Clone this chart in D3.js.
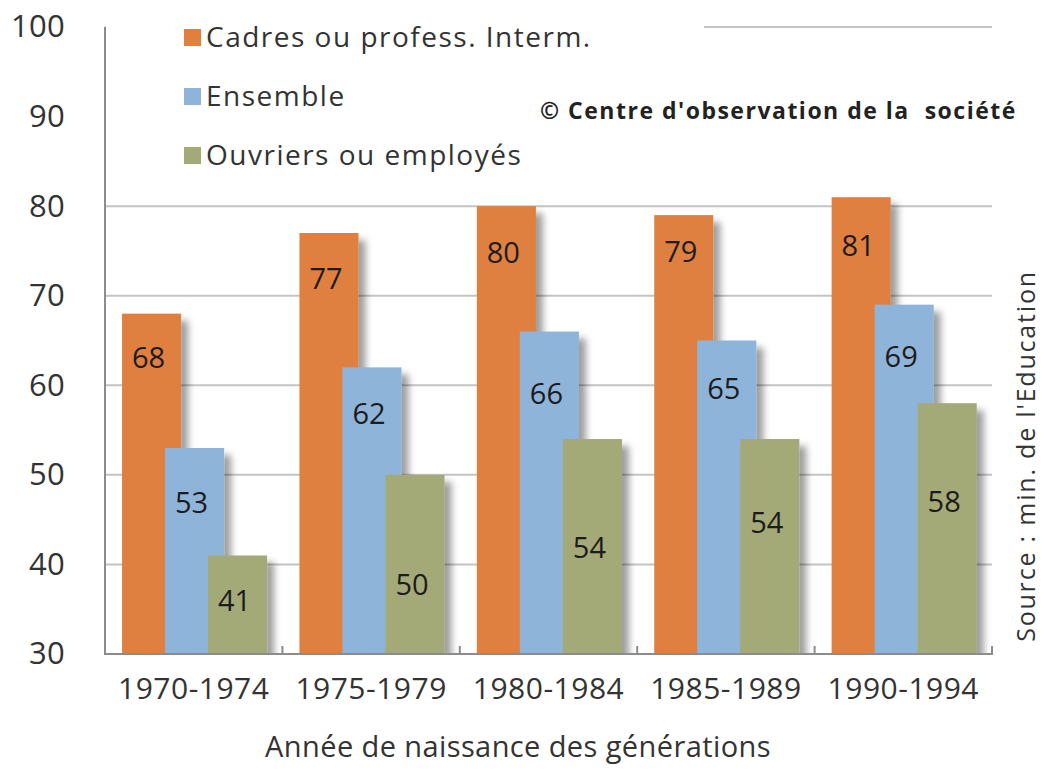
<!DOCTYPE html>
<html>
<head>
<meta charset="utf-8">
<script src="https://cdn.jsdelivr.net/npm/d3@7"></script>
<style>
  html, body { margin: 0; padding: 0; background: #fff; }
  svg { display: block; font-family: "Open Sans", "DejaVu Sans", sans-serif; }
</style>
</head>
<body>
<svg id="chart" width="1044" height="775"></svg>
<script>
// ---- data ----
const categories = ["1970-1974", "1975-1979", "1980-1984", "1985-1989", "1990-1994"];
const seriesNames = ["Cadres ou profess. Interm.", "Ensemble", "Ouvriers ou employés"];
const cadres   = [68, 77, 80, 79, 81];
const ensemble = [53, 62, 66, 65, 69];
const ouvriers = [41, 50, 54, 54, 58];
const yTicks = [30, 40, 50, 60, 70, 80, 90, 100];
const xTitle = "Année de naissance des générations";
const credit = "© Centre d'observation de la  société";
const source = "Source : min. de l'Education";

// ---- style / layout ----
const colors = ["#E0803F", "#8FB4D9", "#A3AA78"];
// manual label nudges (px below the bar top), as in the original
const labelNudge = [
  [44, 46, 47, 37, 49],
  [55, 46, 62, 48, 52],
  [45, 110, 109, 84, 99]
];

const seriesValues = [cadres, ensemble, ouvriers];
const svg = d3.select("#chart");

const x = d3.scaleBand().domain(categories).range([105, 992]).padding(0);
const y = d3.scaleLinear().domain([30, 100]).range([654, 27]);
const bw = x.bandwidth();
const sub = d3.scaleLinear().domain([0, 2]).range([bw * 0.096, bw * 0.096 + bw * 0.485]);
const barW = bw * 0.333;

// shadow filter + clip
const defs = svg.append("defs");
const f = defs.append("filter").attr("id", "sh").attr("x", "-20%").attr("y", "-10%").attr("width", "160%").attr("height", "130%");
f.append("feDropShadow").attr("dx", 7).attr("dy", 7).attr("stdDeviation", 3.5)
  .attr("flood-color", "#000").attr("flood-opacity", 0.38);
defs.append("clipPath").attr("id", "plotclip").append("rect")
  .attr("x", 0).attr("y", 0).attr("width", 1044).attr("height", y(30) - 1);

// gridlines
svg.append("g").selectAll("line").data(yTicks.filter(d => d > 30)).join("line")
  .attr("x1", 105).attr("x2", 992)
  .attr("y1", d => y(d)).attr("y2", d => y(d))
  .attr("stroke", "#c4c4c4").attr("stroke-width", 2);

// legend background (hides gridlines like the original)
svg.append("rect").attr("x", 106).attr("y", 0).attr("width", 598).attr("height", 178).attr("fill", "#fff");

// bars
const barsG = svg.append("g").attr("clip-path", "url(#plotclip)");
seriesValues.forEach((vals, si) => {
  barsG.append("g").selectAll("rect").data(vals).join("rect")
    .attr("x", (d, i) => x(categories[i]) + sub(si))
    .attr("y", d => y(d))
    .attr("width", barW)
    .attr("height", d => y(30) - y(d))
    .attr("fill", colors[si])
    .attr("filter", "url(#sh)");
});

// data labels
seriesValues.forEach((vals, si) => {
  svg.append("g").selectAll("text").data(vals).join("text")
    .attr("x", (d, i) => x(categories[i]) + sub(si) + barW / 2 - 3)
    .attr("y", (d, i) => y(d) + labelNudge[si][i])
    .attr("dy", "0.35em")
    .attr("text-anchor", "middle")
    .attr("font-size", 29)
    .attr("fill", "#1c1c1c")
    .text(d => d);
});

// y axis
const yAxis = svg.append("g").attr("transform", "translate(105,0)")
  .call(d3.axisLeft(y).tickValues(yTicks).tickSize(0).tickPadding(40).tickFormat(d3.format("d")));
yAxis.select(".domain").remove();
yAxis.selectAll("text").attr("font-size", 31).attr("letter-spacing", 0.3).attr("fill", "#333").attr("font-family", "Open Sans");
svg.append("line").attr("x1", 105).attr("x2", 105).attr("y1", y(100)).attr("y2", y(30))
  .attr("stroke", "#8c8c8c").attr("stroke-width", 2);

// x axis
const xAxis = svg.append("g").attr("transform", `translate(0,${y(30)})`)
  .call(d3.axisBottom(x).tickSize(0).tickPadding(24));
xAxis.select(".domain").remove();
xAxis.selectAll("text").attr("font-size", 30).attr("letter-spacing", 0.5).attr("fill", "#333").attr("font-family", "Open Sans");
svg.append("line").attr("x1", 104).attr("x2", 993).attr("y1", y(30)).attr("y2", y(30))
  .attr("stroke", "#8c8c8c").attr("stroke-width", 2);
svg.append("g").selectAll("line").data(categories).join("line")
  .attr("x1", d => x(d) + bw).attr("x2", d => x(d) + bw)
  .attr("y1", y(30)).attr("y2", y(30) - 8)
  .attr("stroke", "#8c8c8c").attr("stroke-width", 2);

// x title
svg.append("text").attr("x", 518).attr("y", 757).attr("text-anchor", "middle")
  .attr("font-size", 29).attr("letter-spacing", 0.4).attr("fill", "#333").text(xTitle);

// legend
const lg = svg.append("g");
seriesNames.forEach((n, i) => {
  const cy = 37 + i * 59;
  lg.append("rect").attr("x", 184).attr("y", cy - 8).attr("width", 17).attr("height", 17).attr("fill", colors[i]);
  lg.append("text").attr("x", 206).attr("y", cy).attr("dy", "0.35em")
    .attr("font-size", 28).attr("letter-spacing", 1.5).attr("fill", "#333").text(n);
});

// credit
svg.append("rect").attr("x", 532).attr("y", 95).attr("width", 500).attr("height", 32).attr("fill", "#fff");
svg.append("text").attr("x", 540).attr("y", 111).attr("dy", "0.35em")
  .attr("font-size", 23).attr("letter-spacing", 1.5).attr("font-weight", "bold").attr("fill", "#222")
  .attr("xml:space", "preserve").style("white-space", "pre").text(credit);

// source (rotated)
svg.append("text").attr("transform", "translate(1035,456) rotate(-90)")
  .attr("text-anchor", "middle").attr("font-size", 25).attr("letter-spacing", 1.8).attr("fill", "#333").text(source);
</script>
</body>
</html>
